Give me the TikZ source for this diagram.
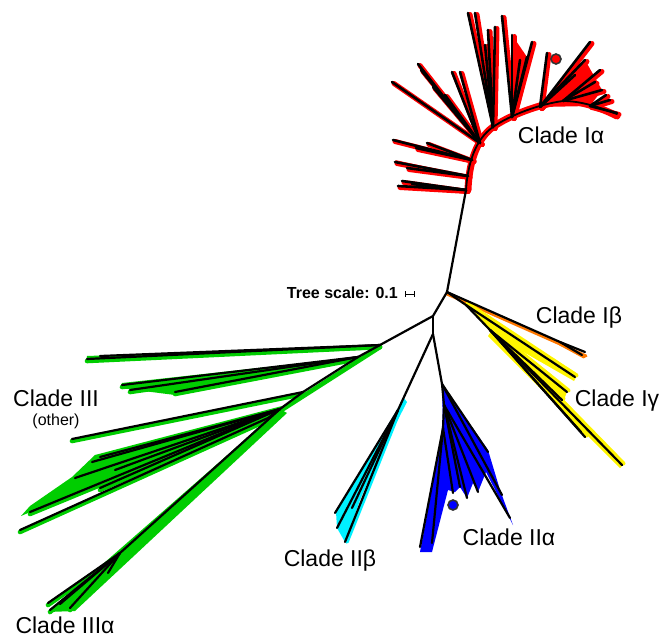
\documentclass[tikz,border=0pt]{standalone}
\usepackage{fontspec}
\setmainfont{Liberation Sans}
\usetikzlibrary{calc}
\definecolor{cRed}{RGB}{255,0,0}
\definecolor{cGreen}{RGB}{0,205,0}
\definecolor{cBlue}{RGB}{0,0,255}
\definecolor{cCyan}{RGB}{0,240,255}
\definecolor{cYellow}{RGB}{255,245,0}
\definecolor{cOrange}{RGB}{255,120,0}
\definecolor{dotEdge}{RGB}{50,50,50}
\begin{document}
\begin{tikzpicture}[x=1pt,y=-1pt,
  br/.style={line width=2.2pt, line cap=round, draw=black},
  hl/.style={line width=4.6pt, line cap=round, draw=#1},
  lbl/.style={font=\fontsize{23}{25}\selectfont, inner sep=0pt},
  sub/.style={font=\fontsize{16}{18}\selectfont, inner sep=0pt},
  marker/.style={circle, draw=dotEdge, line width=1.6pt, fill=#1, minimum size=10pt, inner sep=0pt}]
\useasboundingbox (0,0) rectangle (662,638);

% ---- internal nodes ----
\coordinate (A) at (433,316);
\coordinate (B) at (447,292);
\coordinate (C) at (433,334);
\coordinate (G) at (380,345);
\coordinate (G2) at (358,357);
\coordinate (G3) at (303,392);
\coordinate (G4) at (280,409);
\coordinate (G5) at (268,418);
\coordinate (H) at (120,553);
\coordinate (Ig) at (466,305);
\coordinate (Igk) at (490,330);
\coordinate (Ib) at (560,342);
\coordinate (IIb) at (398,410);
\coordinate (IIa) at (442,384);
\coordinate (IIa2) at (444,405);
\coordinate (IIa3) at (443,428);
% clade I-alpha backbone
\coordinate (S0) at (466,190);
\coordinate (S1) at (468,176);
\coordinate (S2) at (472,160);
\coordinate (S3) at (480,143);
\coordinate (S4) at (493,127);
\coordinate (S5) at (512,117);
\coordinate (S6) at (540,107);
\coordinate (S7) at (563,101);
\coordinate (S8) at (590,106);
\coordinate (S9) at (617,114);

% ---- leaf lists: parent/x/y ----
\def\IaLeaves{S0/398/186,S0/402/181,S0/412/184,S1/395/162,S1/407/168,S2/393/140,S2/427/143,S2/416/148,
  S3/392/82,S3/418/64,S3/421/70,S3/433/87,S3/445/95,S3/452/72,S3/460/72,
  S4/468/13,S4/475/13,S4/495/27,S4/488/30,S4/485/45,
  S5/502/16,S5/512/35,S5/527/57,S5/532/42,S5/520/60,
  S6/547/53,S6/590/42,S6/585/60,S6/575/75,S7/600/70,S7/602/90,S7/595/82,S8/610/100,S8/606/95,S8/617/113}
\def\GLeaves{G/87/359,G/100/356,G2/122/385,G2/130/390,G2/175/392,G3/72/439,
  G4/92/462,G4/100/457,G4/75/478,G4/30/512,G5/20/530,G4/100/488,G4/115/470,
  H/50/610,H/60/604,H/70/608,H/48/603,H/108/573}
\def\IIaLeaves{IIa/488/452,IIa/502/495,IIa2/510/518,IIa2/478/492,IIa2/467/498,IIa2/460/487,
  IIa3/453/493,IIa3/432/543,IIa3/420/547}
\def\IIbLeaves{IIb/335/513,IIb/337/528,IIb/345/542,IIb/352/508}
\def\IgLeaves{Ig/575/377,Igk/567/392,Igk/562/400,Igk/585/437,Igk/581/432,Igk/622/465}

% ---- coloured clade shading ----
\fill[cGreen] (G2) -- (122,383) -- (120,388) -- (175,395) -- cycle;
\fill[cGreen] (282,406) -- (95,455) -- (72,477) -- (30,506) -- (21,516) -- (110,478) -- (272,420) -- cycle;
\fill[cGreen] (G4) -- (48,612) -- (75,611) -- (287,413) -- cycle;
\fill[cGreen] (G) -- (87,356) -- (86,362) -- cycle;
\fill[cBlue] (IIa) -- (488,450) -- (500,490) -- (513,525) -- (486,472) -- (478,492) -- (473,483)
  -- (467,498) -- (460,487) -- (455,492) -- (448,490) -- (432,552) -- (420,552) -- (443,430) -- cycle;
\fill[cYellow] (468,304) -- (578,374) -- (574,381) -- (492,334) -- cycle;
\fill[cYellow] (492,330) -- (568,389) -- (564,400) -- (625,463) -- (620,468) -- (488,336) -- cycle;
\fill[cCyan] (404,398) -- (336,512) -- (337,528) -- (345,542) -- (368,478) -- (407,402) -- cycle;

% narrow red fans behind clade I-alpha
\fill[cRed] (S3) -- (433,87) -- (445,95) -- cycle;
\fill[cRed] (S5) -- (512,35) -- (527,57) -- cycle;
\fill[cRed] (S6) -- (585,60) -- (602,90) -- (S8) -- cycle;
\fill[cRed] (S1) -- (395,160) -- (407,168) -- cycle;
% red backbone and highlighted branches
\draw[hl=cRed, line width=7pt] ($(S0)+(2,0)$) .. controls (469,160) and (478,138) .. (S4)
  .. controls (510,115) and (540,104) .. (S7) .. controls (585,101) and (605,110) .. ($(S9)+(0,2)$);
\foreach \p/\x/\y in \IaLeaves { \draw[hl=cRed, line width=5pt] ($(\p)+(2,1.5)$) -- (\x+2,\y+1.5); }
\foreach \p/\x/\y in \GLeaves { \draw[hl=cGreen] ($(\p)+(0,2)$) -- (\x,\y+2); }
\draw[hl=cGreen] ($(G)+(0,2)$) -- ($(G4)+(0,2)$) -- ($(H)+(0,2)$);
\draw[hl=cOrange, line width=3pt] ($(B)+(0,2)$) -- ($(Ib)+(0,2)$) -- (584,357);
\draw[hl=cOrange, line width=3pt] ($(Ib)+(0,2)$) -- (586,356);
\foreach \p/\x/\y in \IgLeaves { \draw[hl=cYellow, line width=4pt] ($(\p)+(1.5,-1.5)$) -- (\x+1.5,\y-1.5); }
\foreach \p/\x/\y in \IIbLeaves { \draw[hl=cCyan, line width=3.5pt] ($(\p)+(2,0)$) -- (\x+2,\y); }

% ---- black tree ----
\draw[br] (A) -- (B);
\draw[br] (A) -- (C);
\draw[br] (A) -- (G);
\draw[br] (B) -- (S0);
\draw[br] (B) -- (Ig) -- (Igk);
\draw[br] (B) -- (Ib);
\draw[br] (Ib) -- (585,352);
\draw[br] (Ib) -- (582,355);
\draw[br] (C) -- (IIa) -- (IIa2) -- (IIa3);
\draw[br] (C) -- (IIb);
\draw[br] (G) -- (G2) -- (G3) -- (G4) -- (H);
\draw[br] (G4) -- (G5);
\draw[br, line width=1.8pt] (S0) .. controls (468,160) and (477,138) .. (S4)
  .. controls (510,115) and (540,104) .. (S7) .. controls (585,101) and (605,110) .. (S9);
\foreach \p/\x/\y in \IaLeaves { \draw[br, line width=2.6pt] (\p) -- (\x,\y); }
\foreach \p/\x/\y in \GLeaves { \draw[br] (\p) -- (\x,\y); }
\foreach \p/\x/\y in \IIaLeaves { \draw[br] (\p) -- (\x,\y); }
\foreach \p/\x/\y in \IIbLeaves { \draw[br] (\p) -- (\x,\y); }
\foreach \p/\x/\y in \IgLeaves { \draw[br] (\p) -- (\x,\y); }

% ---- markers ----
\node[marker=cRed] (mRed) at (556,59) {};
\node[marker=cBlue] (mBlue) at (453,505) {};

% ---- scale ----
\node[font=\fontsize{16}{18}\selectfont\bfseries, inner sep=0pt, anchor=east] (scaleTxt) at (398,293) {Tree scale: 0.1};
\coordinate (sb1) at (405,294);
\coordinate (sb2) at (414,294);
\draw[line width=1pt] (sb1) -- (sb2);
\draw[line width=1pt] ($(sb1)+(0,-3)$) -- ($(sb1)+(0,3)$);
\draw[line width=1pt] ($(sb2)+(0,-3)$) -- ($(sb2)+(0,3)$);

% ---- clade labels ----
\node[lbl] (lIa) at (561,135) {Clade Iα};
\node[lbl] (lIb) at (579,318) {Clade Iβ};
\node[lbl] (lIg) at (617,401) {Clade Iγ};
\node[lbl] (lIII) at (56,398) {Clade III};
\node[sub] (lOther) at (56,421) {(other)};
\node[lbl] (lIIb) at (330,561) {Clade IIβ};
\node[lbl] (lIIa) at (509,537) {Clade IIα};
\node[lbl] (lIIIa) at (65,625) {Clade IIIα};
\end{tikzpicture}
\end{document}
